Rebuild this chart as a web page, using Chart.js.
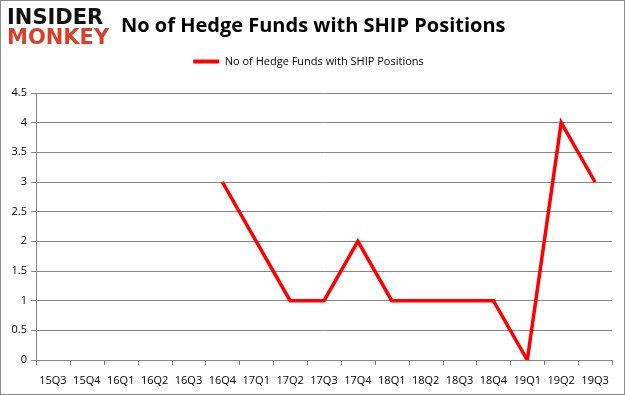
<!DOCTYPE html>
<html>
<head>
<meta charset="utf-8">
<script src="https://cdn.jsdelivr.net/npm/chart.js@4"></script>
<style>
  html, body { margin: 0; padding: 0; background: #fff; }
  #wrap { position: relative; width: 623px; height: 393px; border: 1px solid #8c8c8c; overflow: hidden; }
  #logo { position: absolute; left: 6px; top: 6px; font-family: "DejaVu Sans", sans-serif; font-weight: bold; line-height: 20px; font-size: 21px; letter-spacing: 0px; }
  #logo .a { color: #111; }
  #logo .b { color: #d9402b; }
  #title { position: absolute; left: 120px; top: 10px; font-family: "Open Sans", sans-serif; font-weight: bold; font-size: 20px; color: #000; }
  canvas { position: absolute; left: 0; top: 0; }
</style>
</head>
<body>
<div id="wrap">
  <canvas id="chart" width="623" height="393"></canvas>
  <div id="logo"><div class="a">INSIDER</div><div class="b">MONKEY</div></div>
  <div id="title">No of Hedge Funds with SHIP Positions</div>
</div>
<script>
// quarters on the x axis
const quarters = ['15Q3', '15Q4', '16Q1', '16Q2', '16Q3', '16Q4', '17Q1', '17Q2', '17Q3',
  '17Q4', '18Q1', '18Q2', '18Q3', '18Q4', '19Q1', '19Q2', '19Q3'];
// hedge fund counts, no data before 16Q4
const fundCounts = [null, null, null, null, null, 3, 2, 1, 1, 2, 1, 1, 1, 1, 0, 4, 3];
const seriesLabel = 'No of Hedge Funds with SHIP Positions';
const yTicks = [0, 0.5, 1, 1.5, 2, 2.5, 3, 3.5, 4, 4.5];

const gridGray = '#868686';
const labelFont = { family: '"Open Sans", sans-serif', size: 11 };

new Chart(document.getElementById('chart'), {
  type: 'line',
  data: {
    labels: quarters,
    datasets: [{
      label: seriesLabel,
      data: fundCounts,
      borderColor: '#ff0000',
      backgroundColor: '#ff0000',
      borderWidth: 3.5,
      pointRadius: 0,
      tension: 0,
      spanGaps: false
    }]
  },
  options: {
    responsive: false,
    animation: false,
    layout: { padding: { top: 49, right: 12, left: 4, bottom: 6 } },
    plugins: {
      legend: {
        display: true,
        labels: {
          color: '#000',
          font: labelFont,
          boxWidth: 26,
          boxHeight: 4,
          padding: 6,
          generateLabels(chart) {
            return [{ text: seriesLabel, fillStyle: '#ff0000', strokeStyle: '#ff0000', lineWidth: 0, datasetIndex: 0 }];
          }
        }
      },
      tooltip: { enabled: false }
    },
    scales: {
      x: {
        offset: true,
        grid: { display: false, drawOnChartArea: false, offset: true },
        border: { color: gridGray },
        ticks: { color: '#000', font: labelFont, maxRotation: 0, autoSkip: false, padding: 6 },
        afterFit(scale) { scale.height = 28; }
      },
      y: {
        min: 0,
        max: 4.5,
        afterBuildTicks(scale) { scale.ticks = yTicks.map(v => ({ value: v })); },
        grid: { color: gridGray, tickLength: 5, tickColor: gridGray },
        border: { color: gridGray },
        ticks: { color: '#000', font: labelFont, padding: 4, callback: v => String(v) },
        afterFit(scale) { scale.width = 31; }
      }
    }
  },
  plugins: [{
    id: 'legendGap',
    beforeInit(chart) {
      const fit = chart.legend.fit;
      chart.legend.fit = function () {
        fit.bind(chart.legend)();
        this.height += 16;
      };
    }
  }, {
    id: 'xTickMarks',
    afterDraw(chart) {
      // small ticks between categories under the x axis
      const { ctx, scales: { x }, chartArea } = chart;
      ctx.save();
      ctx.strokeStyle = gridGray;
      ctx.lineWidth = 1;
      const step = x.getPixelForValue(1) - x.getPixelForValue(0);
      for (let i = 0; i <= quarters.length; i++) {
        const px = Math.round(x.getPixelForValue(i) - step / 2) + 0.5;
        ctx.beginPath();
        ctx.moveTo(px, chartArea.bottom);
        ctx.lineTo(px, chartArea.bottom + 5);
        ctx.stroke();
      }
      ctx.restore();
    }
  }]
});
</script>
</body>
</html>
